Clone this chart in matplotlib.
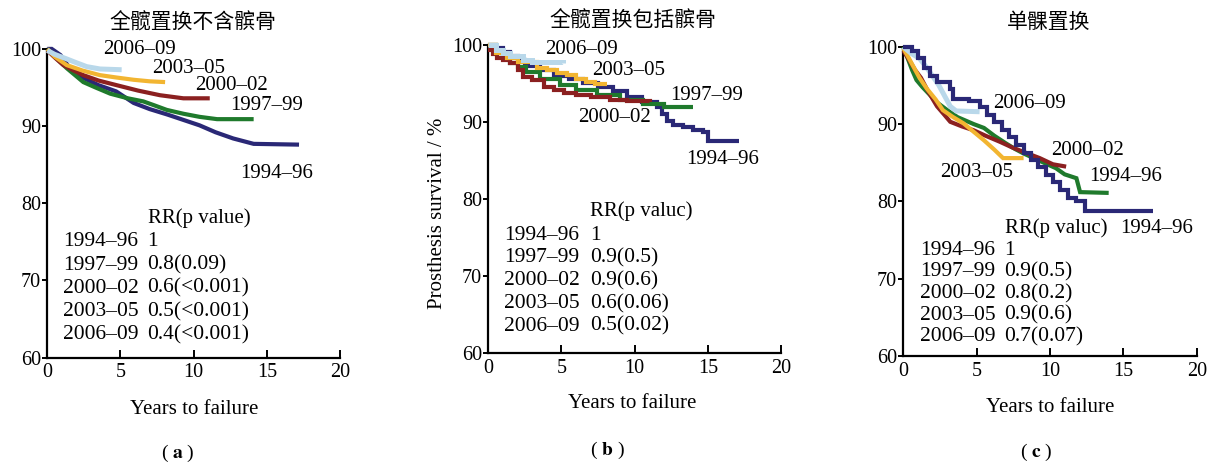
import matplotlib
matplotlib.use("Agg")
import matplotlib.pyplot as plt

plt.rcParams['font.family'] = ['Liberation Serif', 'Noto Sans CJK SC', 'DejaVu Sans']
plt.rcParams['mathtext.fontset'] = 'stix'

W, H = 1214, 466

# ---------------- data ----------------
periods = ["1994–96", "1997–99", "2000–02", "2003–05", "2006–09"]
colors = ["#2a2876", "#1f7a2c", "#8b2020", "#f2b531", "#b9d8ea"]

titles = ["全髋置换不含髌骨", "全髋置换包括髌骨", "单髁置换"]
panel_tags = ["a", "b", "c"]

# Panel (a) total hip without patella
a_t = [
    [0, 0.3, 0.9, 1.5, 2.5, 3.5, 4.7, 5.9, 7.0, 8.2, 9.3, 10.4, 11.5, 12.7, 14.1, 17.2],
    [0, 0.5, 1.33, 2.46, 3.3, 4.3, 5.5, 6.56, 7.3, 8.16, 9.3, 10.4, 11.6, 14.1],
    [0, 0.5, 1.1, 1.8, 2.46, 3.5, 4.74, 6.2, 7.7, 9.3, 11.1],
    [0, 0.5, 1.33, 2.4, 3.6, 4.7, 5.9, 7.0, 8.05],
    [0, 0.5, 1.33, 2.0, 2.7, 3.6, 5.08],
]
a_s = [
    [100, 100, 99.2, 97.6, 96.2, 95.3, 94.5, 93.0, 92.2, 91.5, 90.8, 90.1, 89.2, 88.4, 87.7, 87.6],
    [100, 99.0, 97.5, 95.7, 95.0, 94.2, 93.6, 93.2, 92.7, 92.1, 91.6, 91.2, 90.9, 90.9],
    [99.8, 98.9, 97.9, 97.2, 96.6, 95.9, 95.3, 94.6, 94.0, 93.6, 93.6],
    [100, 99.0, 97.9, 97.2, 96.6, 96.3, 96.0, 95.8, 95.7],
    [99.8, 99.3, 98.7, 98.2, 97.7, 97.4, 97.3],
]

# Panel (b) total hip with patella
b_t = [
    [0, 0.5, 1.0, 1.5, 2.0, 2.5, 3.5, 4.5, 5.5, 6.5, 7.5, 8.5, 9.5, 10.5, 11.5, 11.9, 12.2, 12.6, 13.3, 14.0, 14.7, 15.0, 17.1],
    [0, 0.5, 1.0, 1.5, 2.0, 2.6, 3.5, 4.9, 6.0, 7.4, 9.0, 10.6, 12.0, 14.0],
    [0, 0.3, 0.6, 1.0, 1.5, 2.0, 2.4, 3.0, 3.8, 4.5, 5.2, 6.0, 7.0, 8.3, 9.5, 11.05],
    [0, 0.5, 1.3, 2.0, 3.3, 4.0, 4.7, 5.4, 6.0, 6.7, 7.3, 8.1],
    [0, 0.5, 1.0, 1.5, 2.4, 3.0, 5.1],
]
b_s = [
    [100, 99.6, 99.1, 98.6, 98.0, 97.3, 96.7, 96.0, 95.6, 95.1, 94.6, 94.0, 93.3, 92.6, 92.0, 91.0, 90.2, 89.6, 89.4, 89.0, 88.7, 87.6, 87.6],
    [100, 99.0, 98.3, 97.7, 97.1, 96.5, 95.6, 94.8, 94.2, 93.5, 92.9, 92.4, 92.0, 91.9],
    [99.3, 98.8, 98.3, 98.0, 97.6, 96.8, 95.9, 95.4, 94.6, 94.2, 93.8, 93.5, 93.2, 92.9, 92.7, 92.6],
    [100, 99.0, 98.3, 97.8, 97.0, 96.7, 96.4, 96.1, 95.6, 95.2, 95.0, 95.0],
    [100, 99.3, 98.9, 98.6, 98.1, 97.8, 97.7],
]

# Panel (c) unicompartmental knee
c_t = [
    [0, 0.6, 1.0, 1.4, 1.8, 2.3, 3.2, 3.4, 4.5, 5.2, 5.7, 6.2, 6.7, 7.2, 7.7, 8.2, 8.7, 9.2, 9.7, 10.2, 10.7, 11.2, 11.8, 12.4, 17.0],
    [0, 0.3, 0.6, 0.9, 1.3, 1.8, 2.3, 3.0, 3.7, 4.8, 5.5, 6.2, 7.0, 7.6, 8.2, 9.0, 10.4, 11.0, 11.8, 12.05, 14.0],
    [0, 0.4, 0.8, 1.2, 1.7, 2.3, 2.8, 3.2, 4.0, 4.8, 5.6, 6.6, 7.4, 8.2, 9.3, 10.2, 11.1],
    [0, 0.3, 0.7, 1.1, 1.6, 2.2, 2.7, 3.4, 4.1, 4.8, 5.5, 6.2, 6.8, 8.2],
    [0, 0.5, 1.1, 1.6, 2.0, 2.4, 2.8, 3.2, 3.6, 5.2],
]
c_s = [
    [100, 99.5, 98.5, 97.3, 96.2, 95.5, 94.6, 93.3, 93.0, 92.2, 91.2, 90.3, 89.3, 88.3, 87.3, 86.3, 85.3, 84.4, 83.4, 82.5, 81.5, 80.5, 80.0, 78.7, 78.7],
    [100, 98.5, 97.0, 95.7, 94.8, 93.8, 92.8, 91.8, 90.9, 90.0, 89.5, 88.5, 87.5, 86.8, 86.2, 85.5, 84.3, 83.5, 83.0, 81.2, 81.1],
    [99.5, 98.3, 97.0, 96.0, 94.2, 92.3, 91.2, 90.3, 89.7, 89.2, 88.5, 87.7, 87.0, 86.4, 85.6, 84.8, 84.5],
    [99.8, 98.8, 97.4, 96.0, 94.6, 93.2, 91.8, 90.9, 90.1, 89.0, 87.9, 86.7, 85.6, 85.6],
    [100, 99.2, 98.5, 97.3, 96.2, 95.1, 93.7, 92.3, 91.7, 91.6],
]

# RR tables
rr_header = ["RR(p value)", "RR(p valuc)", "RR(p valuc)"]
a_rr = ["1", "0.8(0.09)", "0.6(<0.001)", "0.5(<0.001)", "0.4(<0.001)"]
b_rr = ["1", "0.9(0.5)", "0.9(0.6)", "0.6(0.06)", "0.5(0.02)"]
c_rr = ["1", "0.9(0.5)", "0.8(0.2)", "0.9(0.6)", "0.7(0.07)"]

# curve labels: (text, x, y) in data units
a_lab = [("2006–09", 3.83, 99.9), ("2003–05", 7.13, 97.5), ("2000–02", 10.1, 95.3),
         ("1997–99", 12.5, 92.7), ("1994–96", 13.2, 83.9)]
b_lab = [("2006–09", 3.88, 99.4), ("2003–05", 7.07, 96.7), ("1997–99", 12.4, 93.5),
         ("2000–02", 6.15, 90.6), ("1994–96", 13.5, 85.1)]
c_lab = [("2006–09", 6.1, 92.7), ("2000–02", 10.1, 86.6), ("2003–05", 2.5, 83.8),
         ("1994–96", 12.7, 83.2), ("1994–96", 14.8, 76.5)]

xticks = [0, 5, 10, 15, 20]
yticks = [60, 70, 80, 90, 100]

# ---------------- layout (pixels) ----------------
axes_px = [  # x0, x20, y60, y100
    (47.3, 340.0, 357.7, 48.9),
    (488.3, 781.0, 353.3, 45.0),
    (903.3, 1196.7, 356.0, 46.8),
]
title_px = [(193, 23), (632.5, 21), (1049, 22)]
xlabel_px = [(194, 410), (632, 403), (1050, 407)]
tag_px = [(178, 453), (607, 450), (1036, 452)]
rr_rows = [
    (1.1, 6.85, [78.1, 75.0, 72.0, 69.0, 66.0, 63.0]),
    (1.1, 6.95, [78.4, 75.3, 72.4, 69.4, 66.4, 63.5]),
    (1.14, 6.9, [76.5, 73.7, 70.9, 68.1, 65.3, 62.5]),
]
styles = [
    ["default"] * 5,
    ["steps-post"] * 5,
    ["steps-post", "default", "default", "default", "default"],
]

fig = plt.figure(figsize=(W / 100, H / 100), dpi=100)

panels = [(a_t, a_s, a_lab, a_rr), (b_t, b_s, b_lab, b_rr), (c_t, c_s, c_lab, c_rr)]

for i, (ts, ss, labs, rr) in enumerate(panels):
    x0, x20, y60, y100 = axes_px[i]
    ax = fig.add_axes([x0 / W, 1 - y60 / H, (x20 - x0) / W, (y60 - y100) / H])
    for k in range(5):
        z = 3 + k
        if i == 2 and k == 0:
            z = 10
        lw = 3.6 if k == 4 else 3.0
        ax.plot(ts[k], ss[k], color=colors[k], lw=lw, drawstyle=styles[i][k],
                solid_capstyle='butt', solid_joinstyle='miter', clip_on=False, zorder=z)
    for (txt, lx, ly) in labs:
        ax.text(lx, ly, txt, fontsize=15, ha='left', va='center', zorder=20)
    cx, vx, rows = rr_rows[i]
    ax.text(vx, rows[0], rr_header[i], fontsize=15, ha='left', va='center')
    for r in range(5):
        ax.text(cx, rows[r + 1], periods[r], fontsize=15.5, ha='left', va='center')
        ax.text(vx, rows[r + 1], rr[r], fontsize=15.5, ha='left', va='center')

    ax.set_xlim(0, 20)
    ax.set_ylim(60, 100)
    ax.set_xticks(xticks)
    ax.set_yticks(yticks)
    ax.spines['top'].set_visible(False)
    ax.spines['right'].set_visible(False)
    for sp in ('left', 'bottom'):
        ax.spines[sp].set_linewidth(1.6)
    ax.tick_params(axis='x', direction='in', length=6, width=1.4, labelsize=14.5, pad=4)
    ax.tick_params(axis='y', direction='out', length=3.5, width=1.4, labelsize=14.5, pad=1)
    ax.patch.set_alpha(0)

    tx, ty = title_px[i]
    fig.text(tx / W, 1 - ty / H, titles[i], fontsize=15, ha='center', va='center',
             family=['Noto Sans CJK SC', 'DejaVu Sans'])
    lx, ly = xlabel_px[i]
    fig.text(lx / W, 1 - ly / H, "Years to failure", fontsize=15, ha='center', va='center')
    gx, gy = tag_px[i]
    fig.text(gx / W, 1 - gy / H, r"( $\mathbf{%s}$ )" % panel_tags[i], fontsize=14,
             ha='center', va='center')

fig.text(438 / W, 1 - 213 / H, "Prosthesis survival / %", fontsize=15, rotation=90,
         ha='center', va='center')

fig.savefig("out.png", dpi=100, facecolor='white')
